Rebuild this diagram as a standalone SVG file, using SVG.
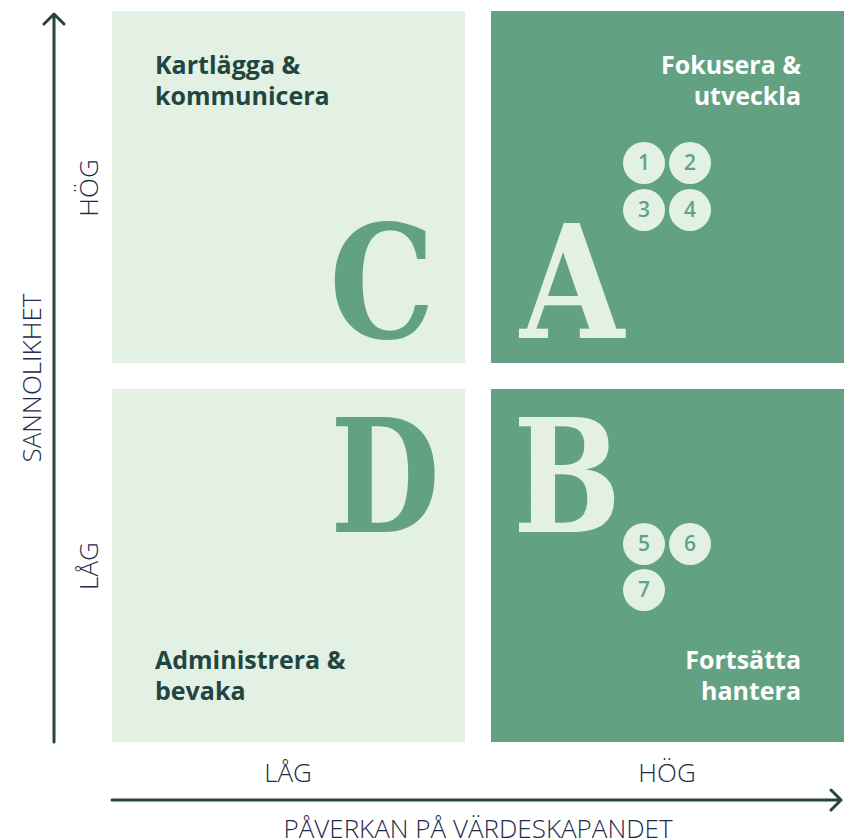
<svg xmlns="http://www.w3.org/2000/svg" width="848" height="839" viewBox="0 0 848 839">
<style>
.light{fill:#e3f1e5}
.dark{fill:#62a283}
.big{font-family:"DejaVu Serif",serif;font-weight:bold;font-size:158px;text-anchor:middle}
.lbl{font-family:"Open Sans","Liberation Sans",sans-serif;font-weight:bold;font-size:25px}
.dl{fill:#22463f}
.wl{fill:#ffffff}
.num{font-family:"Open Sans","Liberation Sans",sans-serif;font-weight:600;font-size:21px;fill:#62a283;text-anchor:middle}
.ax{font-family:"Open Sans","Liberation Sans",sans-serif;font-weight:300;font-size:26px;fill:#1f2b4a;text-anchor:middle}
.axl{stroke:#24463f;stroke-width:3;fill:none;stroke-linecap:round;stroke-linejoin:round}
</style>
<rect width="848" height="839" fill="#ffffff"/>
<g id="quadC"><rect class="light" x="112" y="11" width="353" height="352"/>
<text class="big" transform="translate(382 338) scale(0.84 1)" style="fill:#62a283">C</text>
<text class="lbl dl" x="155" y="74">Kartlägga &amp;</text>
<text class="lbl dl" x="155" y="105">kommunicera</text></g>
<g id="quadA"><rect class="dark" x="491" y="11" width="353" height="352"/>
<text class="big" transform="translate(572 338) scale(0.85 1)" style="fill:#e3f1e5">A</text>
<text class="lbl wl" x="801" y="74" text-anchor="end">Fokusera &amp;</text>
<text class="lbl wl" x="801" y="105" text-anchor="end">utveckla</text></g>
<g id="quadD"><rect class="light" x="112" y="389" width="353" height="353"/>
<text class="big" transform="translate(385 532) scale(0.8 1)" style="fill:#62a283">D</text>
<text class="lbl dl" x="155" y="669">Administrera &amp;</text>
<text class="lbl dl" x="155" y="700">bevaka</text></g>
<g id="quadB"><rect class="dark" x="491" y="389" width="353" height="353"/>
<text class="big" transform="translate(567 532) scale(0.81 1)" style="fill:#e3f1e5">B</text>
<text class="lbl wl" x="801" y="669" text-anchor="end">Fortsätta</text>
<text class="lbl wl" x="801" y="700" text-anchor="end">hantera</text></g>
<g id="n1"><circle class="light" cx="644" cy="163" r="21"/><text class="num" x="644" y="170">1</text></g>
<g id="n2"><circle class="light" cx="690" cy="163" r="21"/><text class="num" x="690" y="170">2</text></g>
<g id="n3"><circle class="light" cx="644" cy="210" r="21"/><text class="num" x="644" y="217">3</text></g>
<g id="n4"><circle class="light" cx="690" cy="210" r="21"/><text class="num" x="690" y="217">4</text></g>
<g id="n5"><circle class="light" cx="644" cy="544" r="21"/><text class="num" x="644" y="551">5</text></g>
<g id="n6"><circle class="light" cx="690" cy="544" r="21"/><text class="num" x="690" y="551">6</text></g>
<g id="n7"><circle class="light" cx="644" cy="590" r="21"/><text class="num" x="644" y="597">7</text></g>
<g id="connectors">
<path class="axl" d="M54 742 V14 M44 24 L54 14 L64 24"/>
<path class="axl" d="M112 800 H841 M831 790 L841 800 L831 810"/>
</g>
<g id="axislabels">
<text class="ax" x="288" y="782">LÅG</text>
<text class="ax" x="667" y="782">HÖG</text>
<text class="ax" x="478" y="838">PÅVERKAN PÅ VÄRDESKAPANDET</text>
<text class="ax" transform="translate(98 188) rotate(-90)">HÖG</text>
<text class="ax" transform="translate(41 378) rotate(-90)">SANNOLIKHET</text>
<text class="ax" transform="translate(98 566) rotate(-90)">LÅG</text>
</g>
</svg>
